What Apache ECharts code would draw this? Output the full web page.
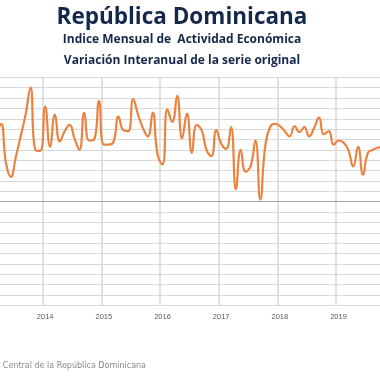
<!DOCTYPE html>
<html>
<head>
<meta charset="utf-8">
<script src="https://cdn.jsdelivr.net/npm/echarts@6/dist/echarts.min.js"></script>
<style>html,body{margin:0;padding:0;background:#fff}#c{width:380px;height:380px}</style>
</head>
<body>
<div id="c"></div>
<script>
// Years and monthly values (variación interanual, %)
const years = ['2013', '2014', '2015', '2016', '2017', '2018', '2019'];
const monthCodes = ['01','02','03','04','05','06','07','08','09','10','11','12'];
const v2013 = [null, null, 6.1, 7.5, 3.7, 2.4, 4.3, 6.3, 8.4, 11.0, 5.0, 4.9];
const v2014 = [9.2, 5.3, 8.4, 5.8, 6.8, 7.4, 6.1, 5.0, 8.6, 5.9, 6.0, 9.7];
const v2015 = [5.5, 5.5, 5.8, 8.2, 6.9, 6.8, 9.9, 8.4, 7.1, 6.3, 8.6, 4.5];
const v2016 = [3.6, 8.9, 7.7, 10.2, 6.1, 8.5, 4.7, 7.4, 6.9, 5.0, 4.4, 6.9];
const v2017 = [5.6, 5.1, 7.2, 1.2, 5.0, 2.9, 3.4, 5.9, 0.2, 5.3, 7.2, 7.5];
const v2018 = [7.3, 6.8, 6.3, 7.3, 6.7, 7.2, 6.3, 7.1, 8.1, 6.5, 6.8, 5.5];
const v2019 = [5.9, 5.7, 5.0, 3.4, 5.3, 2.6, 4.7, 5.0, 5.2, 5.3];
const yearLabels = ['2014', '2015', '2016', '2017', '2018', '2019'];

const allValues = [].concat(v2013, v2014, v2015, v2016, v2017, v2018, v2019);
const categories = [];
years.forEach(y => monthCodes.forEach(m => categories.push(y + '-' + m)));
categories.length = allValues.length;

const chart = echarts.init(document.getElementById('c'), null, {renderer: 'canvas'});
const titleColor = '#14284b';
chart.setOption({
  animation: false,
  backgroundColor: '#ffffff',
  title: [
    {text: 'República Dominicana', left: 177, top: 1, textAlign: 'center',
     textStyle: {fontFamily: 'Open Sans', fontWeight: 'bold', fontSize: 22.5, color: titleColor}},
    {text: 'Indice Mensual de  Actividad Económica', left: 177, top: 29, textAlign: 'center',
     textStyle: {fontFamily: 'Open Sans', fontWeight: 'bold', fontSize: 12, color: titleColor}},
    {text: 'Variación Interanual de la serie original', left: 177, top: 50, textAlign: 'center',
     textStyle: {fontFamily: 'Open Sans', fontWeight: 'bold', fontSize: 12, color: titleColor}}
  ],
  graphic: [{
    type: 'text', right: 234, top: 362,
    style: {text: 'Fuente: Banco Central de la República Dominicana', fill: '#8a8a8a',
            font: '8px "DejaVu Sans"', textAlign: 'right'}
  }],
  grid: {left: -16, right: -5, top: 77.3, bottom: 74.7, containLabel: false, outerBoundsMode: 'none'},
  xAxis: {
    type: 'category', data: categories, boundaryGap: true,
    axisLine: {show: false}, axisTick: {show: false},
    axisLabel: {
      interval: 11, margin: 8, color: '#595959', fontFamily: 'Liberation Sans', fontSize: 7.5,
      formatter: v => { const y = v.slice(0, 4); return yearLabels.indexOf(y) >= 0 ? y : ''; }
    },
    splitLine: {show: true, interval: 11, lineStyle: {color: '#d9d9d9', width: 1.5}}
  },
  yAxis: {
    type: 'value', min: -10, max: 12, interval: 1,
    axisLabel: {show: false}, axisLine: {show: false}, axisTick: {show: false},
    splitLine: {lineStyle: {color: '#d9d9d9', width: 1}}
  },
  series: [{
    type: 'line', data: allValues, smooth: 0.5, symbol: 'none', connectNulls: false,
    lineStyle: {color: '#EA8240', width: 2.2},
    markLine: {silent: true, symbol: 'none', label: {show: false},
      lineStyle: {color: '#a6a6a6', width: 1, type: 'solid'}, data: [{yAxis: 0}]},
    z: 3
  }]
});
</script>
</body>
</html>
